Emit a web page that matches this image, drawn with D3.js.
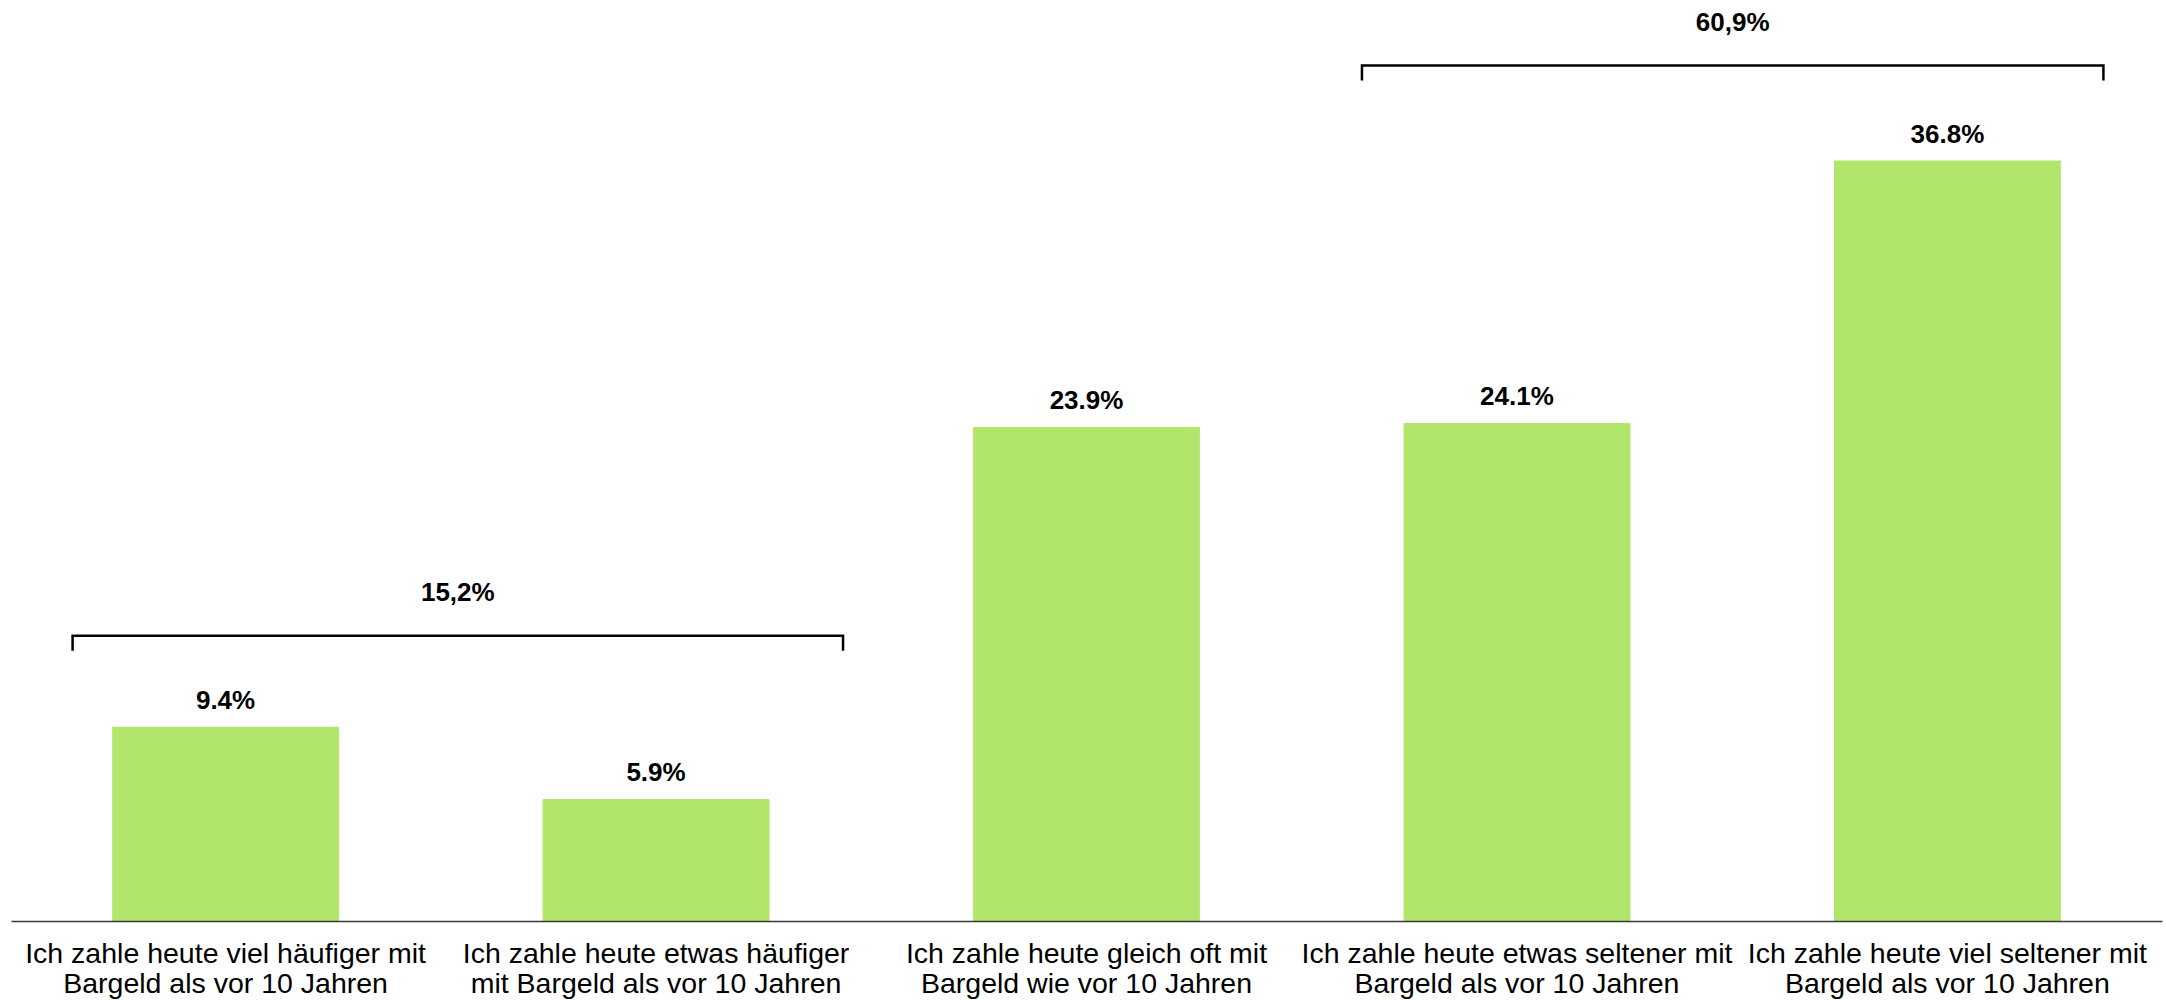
<!DOCTYPE html>
<html>
<head>
<meta charset="utf-8">
<script src="https://cdn.jsdelivr.net/npm/d3@7"></script>
<style>
  html, body { margin: 0; padding: 0; background: #fff; }
  svg { display: block; }
</style>
</head>
<body>
<svg id="chart" width="2166" height="1000"></svg>
<script>
// ---- data ----
const categories = [
  ["Ich zahle heute viel häufiger mit", "Bargeld als vor 10 Jahren"],
  ["Ich zahle heute etwas häufiger", "mit Bargeld als vor 10 Jahren"],
  ["Ich zahle heute gleich oft mit", "Bargeld wie vor 10 Jahren"],
  ["Ich zahle heute etwas seltener mit", "Bargeld als vor 10 Jahren"],
  ["Ich zahle heute viel seltener mit", "Bargeld als vor 10 Jahren"]
];
const values = [9.4, 5.9, 23.9, 24.1, 36.8];
const valueLabels = ["9.4%", "5.9%", "23.9%", "24.1%", "36.8%"];
const bracketFrom = [0, 3];
const bracketTo = [1, 4];
const bracketLabels = ["15,2%", "60,9%"];

// ---- layout ----
const W = 2166, H = 1000;
const baseY = 921, topY = 160.5;
const svg = d3.select("#chart");

const x = d3.scaleBand()
  .domain(d3.range(categories.length))
  .range([11, 2162])
  .paddingInner(0.473)
  .paddingOuter(0.235);

const y = d3.scaleLinear()
  .domain([0, d3.max(values)])
  .range([baseY, topY]);

const green = "#b2e66a";

// bars
svg.append("g").selectAll("rect")
  .data(values)
  .join("rect")
  .attr("x", (d, i) => x(i))
  .attr("width", x.bandwidth())
  .attr("y", d => y(d))
  .attr("height", d => baseY - y(d))
  .attr("fill", green);

// axis line
const xAxis = d3.axisBottom(x).tickSize(0).tickFormat("");
const axisG = svg.append("g").attr("transform", `translate(0,${baseY})`).call(xAxis);
axisG.select(".domain").attr("stroke", "#3a3a3a").attr("stroke-width", 1.5);

// value labels
svg.append("g").selectAll("text")
  .data(values)
  .join("text")
  .attr("x", (d, i) => x(i) + x.bandwidth() / 2)
  .attr("y", d => y(d) - 18)
  .attr("text-anchor", "middle")
  .attr("font-family", "Liberation Sans, Arial, sans-serif")
  .attr("font-weight", "bold")
  .attr("font-size", 26)
  .attr("fill", "#000")
  .text((d, i) => valueLabels[i]);

// category labels
const catG = svg.append("g");
categories.forEach((lines, i) => {
  const t = catG.append("text")
    .attr("x", x(i) + x.bandwidth() / 2)
    .attr("y", 963)
    .attr("text-anchor", "middle")
    .attr("font-family", "Liberation Sans, Arial, sans-serif")
    .attr("font-size", 28.5)
    .attr("fill", "#000");
  lines.forEach((ln, j) => {
    t.append("tspan")
      .attr("x", x(i) + x.bandwidth() / 2)
      .attr("dy", j === 0 ? 0 : 30)
      .text(ln);
  });
});

// brackets
const bracketG = svg.append("g");
const bracketGap = [91, 95];
const leftExt = [153, 155];
const rightExt = [187, 156];
bracketLabels.forEach((lab, k) => {
  const a = bracketFrom[k], b = bracketTo[k];
  const maxV = d3.max(values.slice(a, b + 1));
  const ly = y(maxV) - bracketGap[k];
  const x0 = x(a) + x.bandwidth() / 2 - leftExt[k];
  const x1 = x(b) + x.bandwidth() / 2 + rightExt[k];
  bracketG.append("path")
    .attr("d", `M${x0},${ly + 15}V${ly}H${x1}V${ly + 15}`)
    .attr("fill", "none")
    .attr("stroke", "#000")
    .attr("stroke-width", 2.5);
  bracketG.append("text")
    .attr("x", (x0 + x1) / 2)
    .attr("y", ly - 35)
    .attr("text-anchor", "middle")
    .attr("font-family", "Liberation Sans, Arial, sans-serif")
    .attr("font-weight", "bold")
    .attr("font-size", 26)
    .attr("fill", "#000")
    .text(lab);
});
</script>
</body>
</html>
